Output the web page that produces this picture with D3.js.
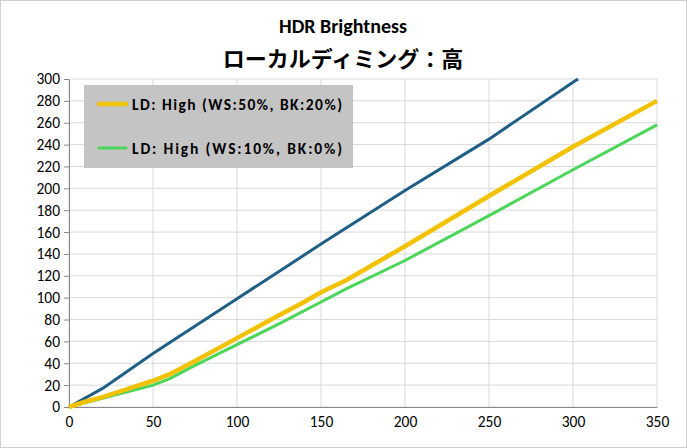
<!DOCTYPE html>
<html><head><meta charset="utf-8">
<script src="https://cdn.jsdelivr.net/npm/d3@7"></script>
<style>body{margin:0;background:#fff}text{font-family:Calibri,"Open Sans","Noto Sans CJK JP",sans-serif}</style>
</head><body><svg id="c" width="687" height="448"></svg>
<script>
const xTicks = [0, 50, 100, 150, 200, 250, 300, 350];
const yTicks = d3.range(0, 301, 20);
const refX = [0, 20, 50, 100, 150, 200, 250, 300, 303];
const refY = [0, 17, 49, 99, 149, 198, 245, 297, 300];
const yelX = [0, 10, 20, 30, 40, 50, 60, 75, 100, 125, 140, 150, 165, 200, 250, 300, 350];
const yelY = [0, 5, 9, 14, 19, 24, 30, 42, 63, 84, 96, 105, 116, 147, 193, 238, 280];
const grnX = [0, 10, 20, 30, 40, 50, 60, 75, 100, 125, 150, 165, 200, 250, 300, 350];
const grnY = [0, 4, 8, 12, 16, 20, 26, 38, 57, 76, 96, 108, 134, 175, 217, 258];

const svg = d3.select('#c');
const x = d3.scaleLinear().domain([0, 350]).range([69, 657]);
const y = d3.scaleLinear().domain([0, 300]).range([407, 79]);

svg.append('rect').attr('x', 0.5).attr('y', 0.5).attr('width', 686).attr('height', 447)
  .attr('fill', 'none').attr('stroke', '#d0d0d0');

// grid
svg.selectAll('.gy').data(yTicks).enter().append('line')
  .attr('x1', x(0)).attr('x2', x(350)).attr('y1', d => y(d)).attr('y2', d => y(d))
  .attr('stroke', '#d9d9d9');
svg.selectAll('.gx').data(xTicks).enter().append('line')
  .attr('y1', y(0)).attr('y2', y(300)).attr('x1', d => x(d)).attr('x2', d => x(d))
  .attr('stroke', '#d9d9d9');

// axes
svg.append('g').attr('transform', `translate(${x(0)},0)`)
  .call(d3.axisLeft(y).tickValues(yTicks).tickSize(5).tickSizeOuter(0))
  .call(g => g.selectAll('line,path').attr('stroke', '#888'))
  .call(g => g.selectAll('text').attr('font-size', 15.5).attr('fill', '#000').attr('dx', -1));
svg.append('g').attr('transform', `translate(0,${y(0)})`)
  .call(d3.axisBottom(x).tickValues(xTicks).tickSize(0).tickSizeOuter(0))
  .call(g => g.selectAll('line,path').attr('stroke', '#888'))
  .call(g => g.selectAll('text').attr('font-size', 15.5).attr('fill', '#000').attr('dy', '1.1em'));

const line = d3.line().x(d => x(d[0])).y(d => y(d[1]));
const zip = (a, b) => a.map((v, i) => [v, b[i]]);
svg.append('path').datum(zip(refX, refY)).attr('d', line).attr('fill', 'none')
  .attr('stroke', '#1f5f85').attr('stroke-width', 3);
svg.append('path').datum(zip(grnX, grnY)).attr('d', line).attr('fill', 'none')
  .attr('stroke', '#4bd65a').attr('stroke-width', 3);
svg.append('path').datum(zip(yelX, yelY)).attr('d', line).attr('fill', 'none')
  .attr('stroke', '#f2c200').attr('stroke-width', 4.5);

// legend
const lg = svg.append('g');
lg.append('rect').attr('x', 84).attr('y', 85).attr('width', 269).attr('height', 83).attr('fill', '#c4c4c4');
[['LD: High (WS:50%, BK:20%)', '#f2c200', 4.5, 104], ['LD: High (WS:10%, BK:0%)', '#4bd65a', 3, 148]].forEach(([t, c, w, cy]) => {
  lg.append('line').attr('x1', 99).attr('x2', 126).attr('y1', cy).attr('y2', cy)
    .attr('stroke', c).attr('stroke-width', w).attr('stroke-linecap', 'round');
  lg.append('text').attr('x', 132).attr('y', cy + 6).attr('font-size', 15.5).attr('font-weight', 'bold')
    .attr('textLength', 210).text(t);
});

// titles
svg.append('text').attr('x', 343).attr('y', 33).attr('text-anchor', 'middle')
  .attr('font-size', 20).attr('font-weight', 'bold').text('HDR Brightness');
svg.append('text').attr('x', 343).attr('y', 67).attr('text-anchor', 'middle')
  .attr('font-size', 22).attr('font-weight', 'bold').text('ローカルディミング：高');
</script></body></html>
